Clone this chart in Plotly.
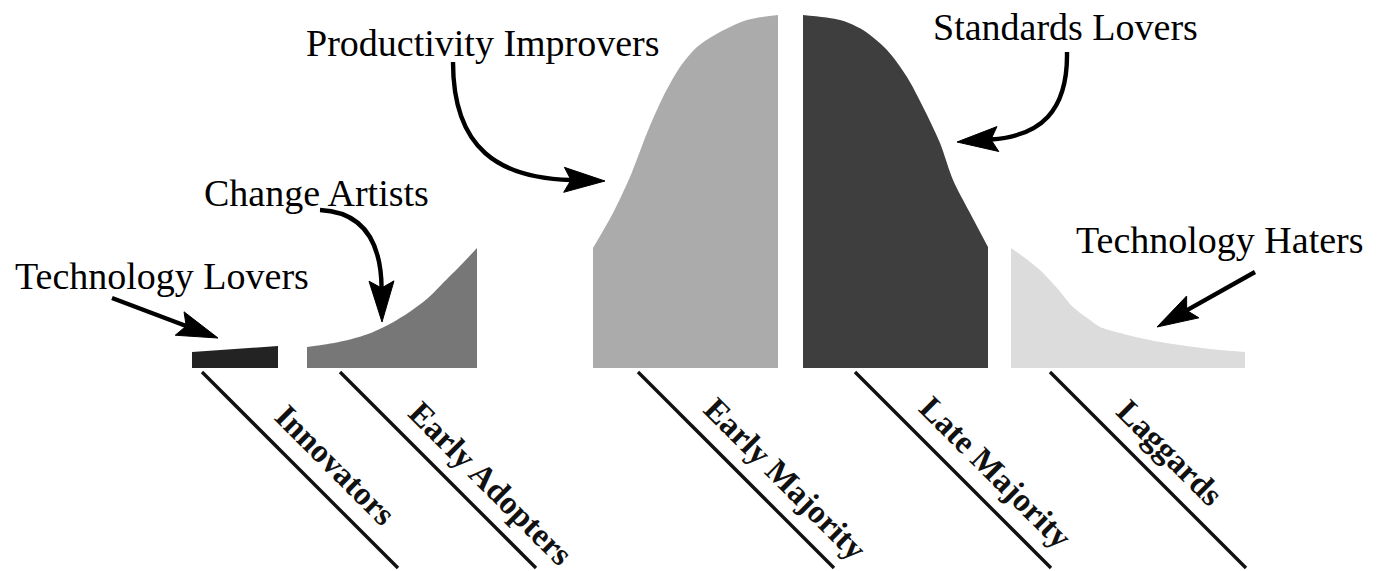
import math
import plotly.graph_objects as go

# ---------------- data (x position, height above the baseline) ----------------
segment_names = ["Innovators", "Early Adopters", "Early Majority", "Late Majority", "Laggards"]

innovators_x = [192, 278]
innovators_h = [16, 22]

early_adopters_x = [307, 328, 348, 368, 388, 408, 428, 445, 462, 477]
early_adopters_h = [21, 24, 28, 34, 43, 55, 70, 87, 104, 120]

early_majority_x = [593, 613, 630, 647, 663, 680, 697, 720, 747, 778]
early_majority_h = [120, 155, 191, 235, 271, 301, 321, 336, 348, 353]

late_majority_x = [803, 840, 863, 887, 907, 923, 940, 953, 970, 988]
late_majority_h = [353, 348, 338, 318, 291, 261, 225, 188, 155, 121]

laggards_x = [1011, 1025, 1040, 1057, 1073, 1090, 1100, 1120, 1140, 1160, 1180, 1210, 1245]
laggards_h = [120, 110, 98, 80, 61, 48, 41, 35, 30, 26, 23, 19, 16]

# label leader lines start (x along baseline)
label_line_x = [202, 340, 638, 855, 1050]

callout_texts = ["Technology Lovers", "Change Artists", "Productivity Improvers",
                 "Standards Lovers", "Technology Haters"]

# ---------------- layout constants ----------------
W, H = 1378, 571
BASE = 368  # pixel row of the baseline


def hy(py):
    """pixel row -> data height"""
    return BASE - py


colors = ["#232323", "#777777", "#ababab", "#3e3e3e", "#dcdcdc"]
series = [(innovators_x, innovators_h), (early_adopters_x, early_adopters_h),
          (early_majority_x, early_majority_h), (late_majority_x, late_majority_h),
          (laggards_x, laggards_h)]

fig = go.Figure()
for (xs, hs), c, name in zip(series, colors, segment_names):
    fig.add_trace(go.Scatter(
        x=xs, y=hs, mode="lines", name=name,
        line=dict(color=c, width=0, shape="spline" if len(xs) > 2 else "linear", smoothing=0.8),
        fill="tozeroy", fillcolor=c, hoverinfo="skip", showlegend=False))

# leader lines and rotated labels
LINE_LEN = 196
label_along = [160, 186, 180, 170, 142]
PERP = 28
annotations = []
for x0, name, along in zip(label_line_x, segment_names, label_along):
    px0, py0 = x0, BASE + 4
    px1, py1 = x0 + LINE_LEN, BASE + 4 + LINE_LEN
    fig.add_trace(go.Scatter(x=[px0, px1], y=[hy(py0), hy(py1)], mode="lines",
                             line=dict(color="#111111", width=3.4),
                             hoverinfo="skip", showlegend=False))
    s = 1 / math.sqrt(2)
    cx = px0 + along * s + PERP * s
    cy = py0 + along * s - PERP * s
    annotations.append(dict(x=cx, y=hy(cy), text="<b>" + name + "</b>", showarrow=False,
                            textangle=45, xanchor="center", yanchor="middle",
                            font=dict(family="Liberation Serif", size=33, color="#111111")))

# callout texts (center x, center pixel row)
callout_pos = [(162, 276), (316, 193), (483, 43), (1065, 27), (1220, 240)]
for t, (cx, cy) in zip(callout_texts, callout_pos):
    annotations.append(dict(x=cx, y=hy(cy), text=t, showarrow=False,
                            xanchor="center", yanchor="middle",
                            font=dict(family="Liberation Serif", size=38, color="#000000")))

shapes = []


def P(px, py):
    return f"{px},{hy(py)}"


def head(tip, frm, length=41, width=25, notch=7):
    tx, ty = tip
    dx, dy = tx - frm[0], ty - frm[1]
    n = math.hypot(dx, dy)
    ux, uy = dx / n, dy / n
    vx, vy = -uy, ux
    bx, by = tx - ux * length, ty - uy * length
    lx, ly = bx + vx * width / 2, by + vy * width / 2
    rx, ry = bx - vx * width / 2, by - vy * width / 2
    nx, ny = bx + ux * notch, by + uy * notch
    return f"M {P(tx, ty)} L {P(lx, ly)} L {P(nx, ny)} L {P(rx, ry)} Z", (nx, ny)


# curved arrows: start, c1, c2, tip
curved = [
    [(453, 62), (453, 150), (500, 178), (605, 181)],
    [(1067, 52), (1068, 112), (1040, 136), (957, 142)],
    [(320, 210), (362, 212), (381, 240), (382, 322)],
]
for p0, p1, p2, tip in curved:
    hp, (nx, ny) = head(tip, p2)
    shapes.append(dict(type="path", xref="x", yref="y",
                       path=f"M {P(*p0)} C {P(*p1)} {P(*p2)} {P(nx, ny)}",
                       line=dict(color="black", width=4.4)))
    shapes.append(dict(type="path", xref="x", yref="y", path=hp,
                       fillcolor="black", line=dict(color="black", width=1)))

straight = [[(112, 298), (218, 338)], [(1255, 272), (1157, 327)]]
for p0, tip in straight:
    hp, (nx, ny) = head(tip, p0)
    shapes.append(dict(type="path", xref="x", yref="y",
                       path=f"M {P(*p0)} L {P(nx, ny)}",
                       line=dict(color="black", width=4.4)))
    shapes.append(dict(type="path", xref="x", yref="y", path=hp,
                       fillcolor="black", line=dict(color="black", width=1)))

fig.update_layout(
    width=W, height=H, margin=dict(l=0, r=0, t=0, b=0),
    paper_bgcolor="white", plot_bgcolor="white",
    xaxis=dict(range=[0, W], visible=False, fixedrange=True),
    yaxis=dict(range=[BASE - H, BASE], visible=False, fixedrange=True),
    annotations=annotations, shapes=shapes, showlegend=False,
)

fig.write_html("out.html", config={"displayModeBar": False},
               post_script="document.body.style.margin='0';document.body.style.overflow='hidden';")
